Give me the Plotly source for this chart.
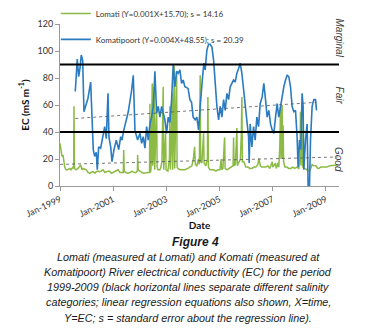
import pandas as pd
import plotly.graph_objects as go

# ---- data ----
lomati_year = [1999.000, 1999.038, 1999.075, 1999.113, 1999.177, 1999.226, 1999.274, 1999.365, 1999.414, 1999.489,
               1999.515, 1999.526, 1999.545, 1999.602, 1999.677, 1999.778, 1999.827, 1999.865, 1999.940, 1999.989,
               2000.053, 2000.117, 2000.165, 2000.241, 2000.316, 2000.365, 2000.429, 2000.492, 2000.541, 2000.617,
               2000.692, 2000.741, 2000.805, 2000.868, 2000.929, 2000.992, 2001.056, 2001.105, 2001.180, 2001.256,
               2001.331, 2001.380, 2001.395, 2001.414, 2001.481, 2001.556, 2001.632, 2001.707, 2001.782, 2001.857,
               2001.910, 2001.921, 2001.940, 2002.008, 2002.083, 2002.158, 2002.233, 2002.308, 2002.368, 2002.383,
               2002.398, 2002.421, 2002.470, 2002.485, 2002.515, 2002.545, 2002.564, 2002.590, 2002.635, 2002.654,
               2002.684, 2002.759, 2002.797, 2002.835, 2002.883, 2002.902, 2002.929, 2002.974, 2002.992, 2003.060,
               2003.117, 2003.135, 2003.154, 2003.192, 2003.222, 2003.241, 2003.267, 2003.297, 2003.316, 2003.342,
               2003.387, 2003.406, 2003.436, 2003.511, 2003.586, 2003.699, 2003.812, 2003.887, 2003.962, 2004.019,
               2004.064, 2004.094, 2004.150, 2004.214, 2004.244, 2004.274, 2004.293, 2004.338, 2004.402, 2004.421,
               2004.489, 2004.545, 2004.564, 2004.583, 2004.639, 2004.714, 2004.789, 2004.865, 2004.940, 2005.015,
               2005.064, 2005.083, 2005.128, 2005.192, 2005.211, 2005.278, 2005.353, 2005.429, 2005.511, 2005.530,
               2005.549, 2005.598, 2005.654, 2005.673, 2005.729, 2005.786, 2005.823, 2005.842, 2005.861, 2005.917,
               2005.992, 2006.068, 2006.143, 2006.218, 2006.293, 2006.368, 2006.444, 2006.481, 2006.538, 2006.594,
               2006.669, 2006.744, 2006.820, 2006.895, 2006.981, 2007.008, 2007.045, 2007.102, 2007.139, 2007.195,
               2007.233, 2007.271, 2007.297, 2007.316, 2007.335, 2007.357, 2007.376, 2007.395, 2007.414, 2007.459,
               2007.534, 2007.609, 2007.684, 2007.759, 2007.835, 2007.910, 2007.985, 2008.030, 2008.049, 2008.068,
               2008.090, 2008.109, 2008.135, 2008.211, 2008.286, 2008.361, 2008.417, 2008.485, 2008.549, 2008.624,
               2008.699, 2008.737, 2008.812, 2008.925, 2009.038, 2009.150, 2009.301, 2009.451]
lomati_ec = [31.6, 28, 22, 23, 14, 12, 12, 13, 12, 14,
             13, 59, 13, 12, 13, 15.5, 12, 13, 12, 12,
             10, 9.4, 10, 10.6, 9.5, 10.6, 11, 10.6, 11, 12,
             10, 10.6, 11, 11, 9.4, 10, 10.6, 11, 12, 10,
             10, 10, 26.7, 11, 10, 9.5, 10, 11, 10, 10,
             11, 23, 12, 11, 10, 9.5, 10, 10, 10, 61,
             10, 12, 76, 15, 20, 73.5, 12, 25, 59, 14,
             12, 12, 14, 18, 73.5, 12, 25, 39, 12, 11,
             20, 59, 12, 30, 69, 12, 40, 89, 13, 40,
             85, 14, 13, 12, 12, 12, 13, 14, 15, 20,
             29, 16, 15, 20, 16, 82, 18, 17, 39, 17,
             15, 20, 66, 14, 12, 12, 12, 11, 12, 12,
             20, 12, 13, 36, 13, 12, 13, 14, 15, 36,
             15, 16, 43, 15, 17, 20, 40, 66, 18, 18,
             14, 14, 13, 13, 14, 14, 16, 20.5, 15, 14,
             14, 14, 15, 13, 18, 14, 15, 17, 13, 17,
             14, 30, 59, 20, 50, 60, 20, 45, 18, 14,
             14, 13, 13, 14, 13, 14, 13, 20, 55, 15,
             52, 15, 14, 13, 12, 11, 12, 16, 15, 15,
             13, 13, 14, 14, 14, 15, 15, 15.5]

komati_year = [1999.575, 1999.650, 1999.703, 1999.752, 1999.801, 1999.853, 1999.902, 1999.989, 2000.053, 2000.154,
               2000.229, 2000.252, 2000.305, 2000.365, 2000.402, 2000.455, 2000.530, 2000.617, 2000.680, 2000.741,
               2000.805, 2000.842, 2000.906, 2000.955, 2001.030, 2001.117, 2001.207, 2001.282, 2001.331, 2001.395,
               2001.492, 2001.568, 2001.695, 2001.756, 2001.820, 2001.921, 2002.008, 2002.071, 2002.132, 2002.195,
               2002.259, 2002.320, 2002.383, 2002.447, 2002.508, 2002.571, 2002.635, 2002.695, 2002.759, 2002.823,
               2002.883, 2002.947, 2003.011, 2003.071, 2003.135, 2003.199, 2003.259, 2003.323, 2003.387, 2003.447,
               2003.511, 2003.575, 2003.635, 2003.699, 2003.763, 2003.823, 2003.887, 2003.951, 2004.011, 2004.086,
               2004.150, 2004.214, 2004.274, 2004.312, 2004.365, 2004.414, 2004.462, 2004.526, 2004.590, 2004.650,
               2004.714, 2004.778, 2004.838, 2004.902, 2004.966, 2005.026, 2005.090, 2005.154, 2005.214, 2005.278,
               2005.342, 2005.402, 2005.466, 2005.530, 2005.590, 2005.654, 2005.718, 2005.778, 2005.842, 2005.906,
               2005.966, 2006.030, 2006.094, 2006.117, 2006.154, 2006.218, 2006.282, 2006.342, 2006.406, 2006.470,
               2006.530, 2006.605, 2006.669, 2006.733, 2006.793, 2006.857, 2006.921, 2006.981, 2007.045, 2007.109,
               2007.169, 2007.233, 2007.297, 2007.357, 2007.421, 2007.485, 2007.545, 2007.609, 2007.673, 2007.733,
               2007.797, 2007.861, 2007.921, 2007.959, 2008.011, 2008.060, 2008.109, 2008.147, 2008.173, 2008.237,
               2008.297, 2008.335, 2008.387, 2008.425, 2008.485, 2008.549, 2008.613, 2008.650]
komati_ec = [70, 94, 81, 87, 97, 93, 55, 60, 65, 77,
             47, 27, 22, 25, 12, 29, 28, 36.5, 44, 35,
             68.7, 36, 29, 18, 27, 34, 27, 36.5, 34, 41,
             49, 55, 71, 82, 41, 34, 39, 31.6, 36.5, 28,
             44, 34, 46, 51, 59, 85, 54, 59, 51, 59,
             54, 49, 39, 51, 47, 64, 90, 73.5, 85, 83.5,
             86, 76, 78.5, 73.5, 73, 72, 64, 62, 51, 49,
             51, 41.5, 59, 71, 81, 91, 86, 100.7, 105, 105,
             103, 93, 76, 59, 49, 59, 51, 64, 56, 68.6,
             64, 73.5, 76, 78.5, 77, 83.5, 87, 91, 83.5, 71,
             56, 46, 36.5, 17, 46, 29, 44, 34, 51, 44,
             61, 66, 76, 64, 51, 56, 46, 41.5, 39, 51,
             61, 51, 59, 66, 73.5, 78.5, 82, 81, 73.5, 59,
             55, 56, 36.5, 14, 34, 27, 68.6, 59, 12, 34,
             46, 0, 0, 34, 59, 64, 64, 56]

lomati_trend_year = [1999.0, 2009.45]
lomati_trend_ec = [16.0, 21.5]
komati_trend_year = [1999.575, 2008.65]
komati_trend_ec = [50.0, 62.0]

category_limits = [90, 40]
category_names = ["Marginal", "Fair", "Good"]
category_label_pos = [110, 67, 20]

x_tick_years = [1999, 2001, 2003, 2005, 2007, 2009]
y_ticks = [0, 20, 40, 60, 80, 100, 120]

lomati_name = "Lomati (Y=0.001X+15.70); s = 14.16"
komati_name = "Komatipoort (Y=0.004X+48.55); s = 20.39"

caption_title = "Figure 4"
caption_lines = [
    "Lomati (measured at Lomati) and Komati (measured at",
    "Komatipoort) River electrical conductivity (EC) for the period",
    "1999-2009 (black horizontal lines separate different salinity",
    "categories; linear regression equations also shown, X=time,",
    "Y=EC; s = standard error about the regression line).",
]


def to_dates(years):
    out = []
    for y in years:
        b = int(y)
        start = pd.Timestamp(year=b, month=1, day=1)
        end = pd.Timestamp(year=b + 1, month=1, day=1)
        out.append(start + (end - start) * (y - b))
    return out


GREEN = "#8CBB45"
BLUE = "#2A7BC0"
FONT = "Lato"
PLOT_H = 162.0  # plot-area height in px, used only to place caption lines


def ypaper(py):
    return (186 - py) / PLOT_H


fig = go.Figure()
fig.add_trace(go.Scatter(x=to_dates(lomati_year), y=lomati_ec, mode="lines", name=lomati_name,
                         line=dict(color=GREEN, width=1.5), legendgroup="a"))
fig.add_trace(go.Scatter(x=to_dates(komati_year), y=komati_ec, mode="lines", name=komati_name,
                         line=dict(color=BLUE, width=1.6), legendgroup="b"))
fig.add_trace(go.Scatter(x=to_dates(lomati_trend_year), y=lomati_trend_ec, mode="lines", showlegend=False,
                         line=dict(color="#555555", width=0.8, dash="dot")))
fig.add_trace(go.Scatter(x=to_dates(komati_trend_year), y=komati_trend_ec, mode="lines", showlegend=False,
                         line=dict(color="#555555", width=0.8, dash="dot")))

for lim in category_limits:
    fig.add_hline(y=lim, line=dict(color="black", width=2))

for name, pos in zip(category_names, category_label_pos):
    fig.add_annotation(x=1.0, xref="paper", y=pos, yref="y", text=f"<i>{name}</i>", showarrow=False,
                       textangle=90, xanchor="center", yanchor="middle",
                       font=dict(family="Liberation Sans", size=10, color="#404040"))

fig.add_annotation(x=0.487, xref="paper", y=ypaper(241.5), yref="paper", text=f"<b><i>{caption_title}</i></b>",
                   showarrow=False, xanchor="center", yanchor="middle",
                   font=dict(family="Liberation Sans", size=12, color="#1a1a1a"))
for i, line in enumerate(caption_lines):
    fig.add_annotation(x=0.459, xref="paper", y=ypaper(256.7 + 15.2 * i), yref="paper",
                       text=f"<i>{line}</i>", showarrow=False, xanchor="center", yanchor="middle",
                       font=dict(family="Liberation Sans", size=10.8, color="#1a1a1a"))

fig.update_layout(
    width=365, height=329,
    margin=dict(l=60, r=26, t=24, b=143, autoexpand=False),
    paper_bgcolor="white", plot_bgcolor="white",
    font=dict(family=FONT, size=9, color="#333333"),
    showlegend=True,
    legend=dict(x=-0.015, y=1.155, xanchor="left", yanchor="top", bgcolor="rgba(0,0,0,0)",
                font=dict(family=FONT, size=8, color="#333333"), tracegroupgap=7,
                traceorder="grouped"),
    xaxis=dict(
        range=[pd.Timestamp("1999-01-01"), pd.Timestamp("2009-07-01")],
        tickvals=[pd.Timestamp(year=y, month=1, day=1) for y in x_tick_years],
        ticktext=[f"Jan-{y}" for y in x_tick_years],
        tickangle=-25, ticks="outside", ticklen=4, tickcolor="#999999",
        showline=True, linecolor="#999999", linewidth=1, showgrid=False, zeroline=False,
        tickfont=dict(family=FONT, size=9, color="#333333"),
        title=dict(text="<b>Date</b>", font=dict(family=FONT, size=10, color="#111111"), standoff=4),
    ),
    yaxis=dict(
        range=[0, 120], tickvals=y_ticks, ticks="outside", ticklen=4, tickcolor="#999999",
        showline=True, linecolor="#999999", linewidth=1, showgrid=False, zeroline=False,
        tickfont=dict(family=FONT, size=9, color="#333333"),
        title=dict(text="<b>EC (mS m<sup>-1</sup>)</b>", font=dict(family=FONT, size=10, color="#111111"), standoff=6),
    ),
)

fig.write_html("out.html", config={"displayModeBar": False},
               post_script="document.body.style.margin='0';")
